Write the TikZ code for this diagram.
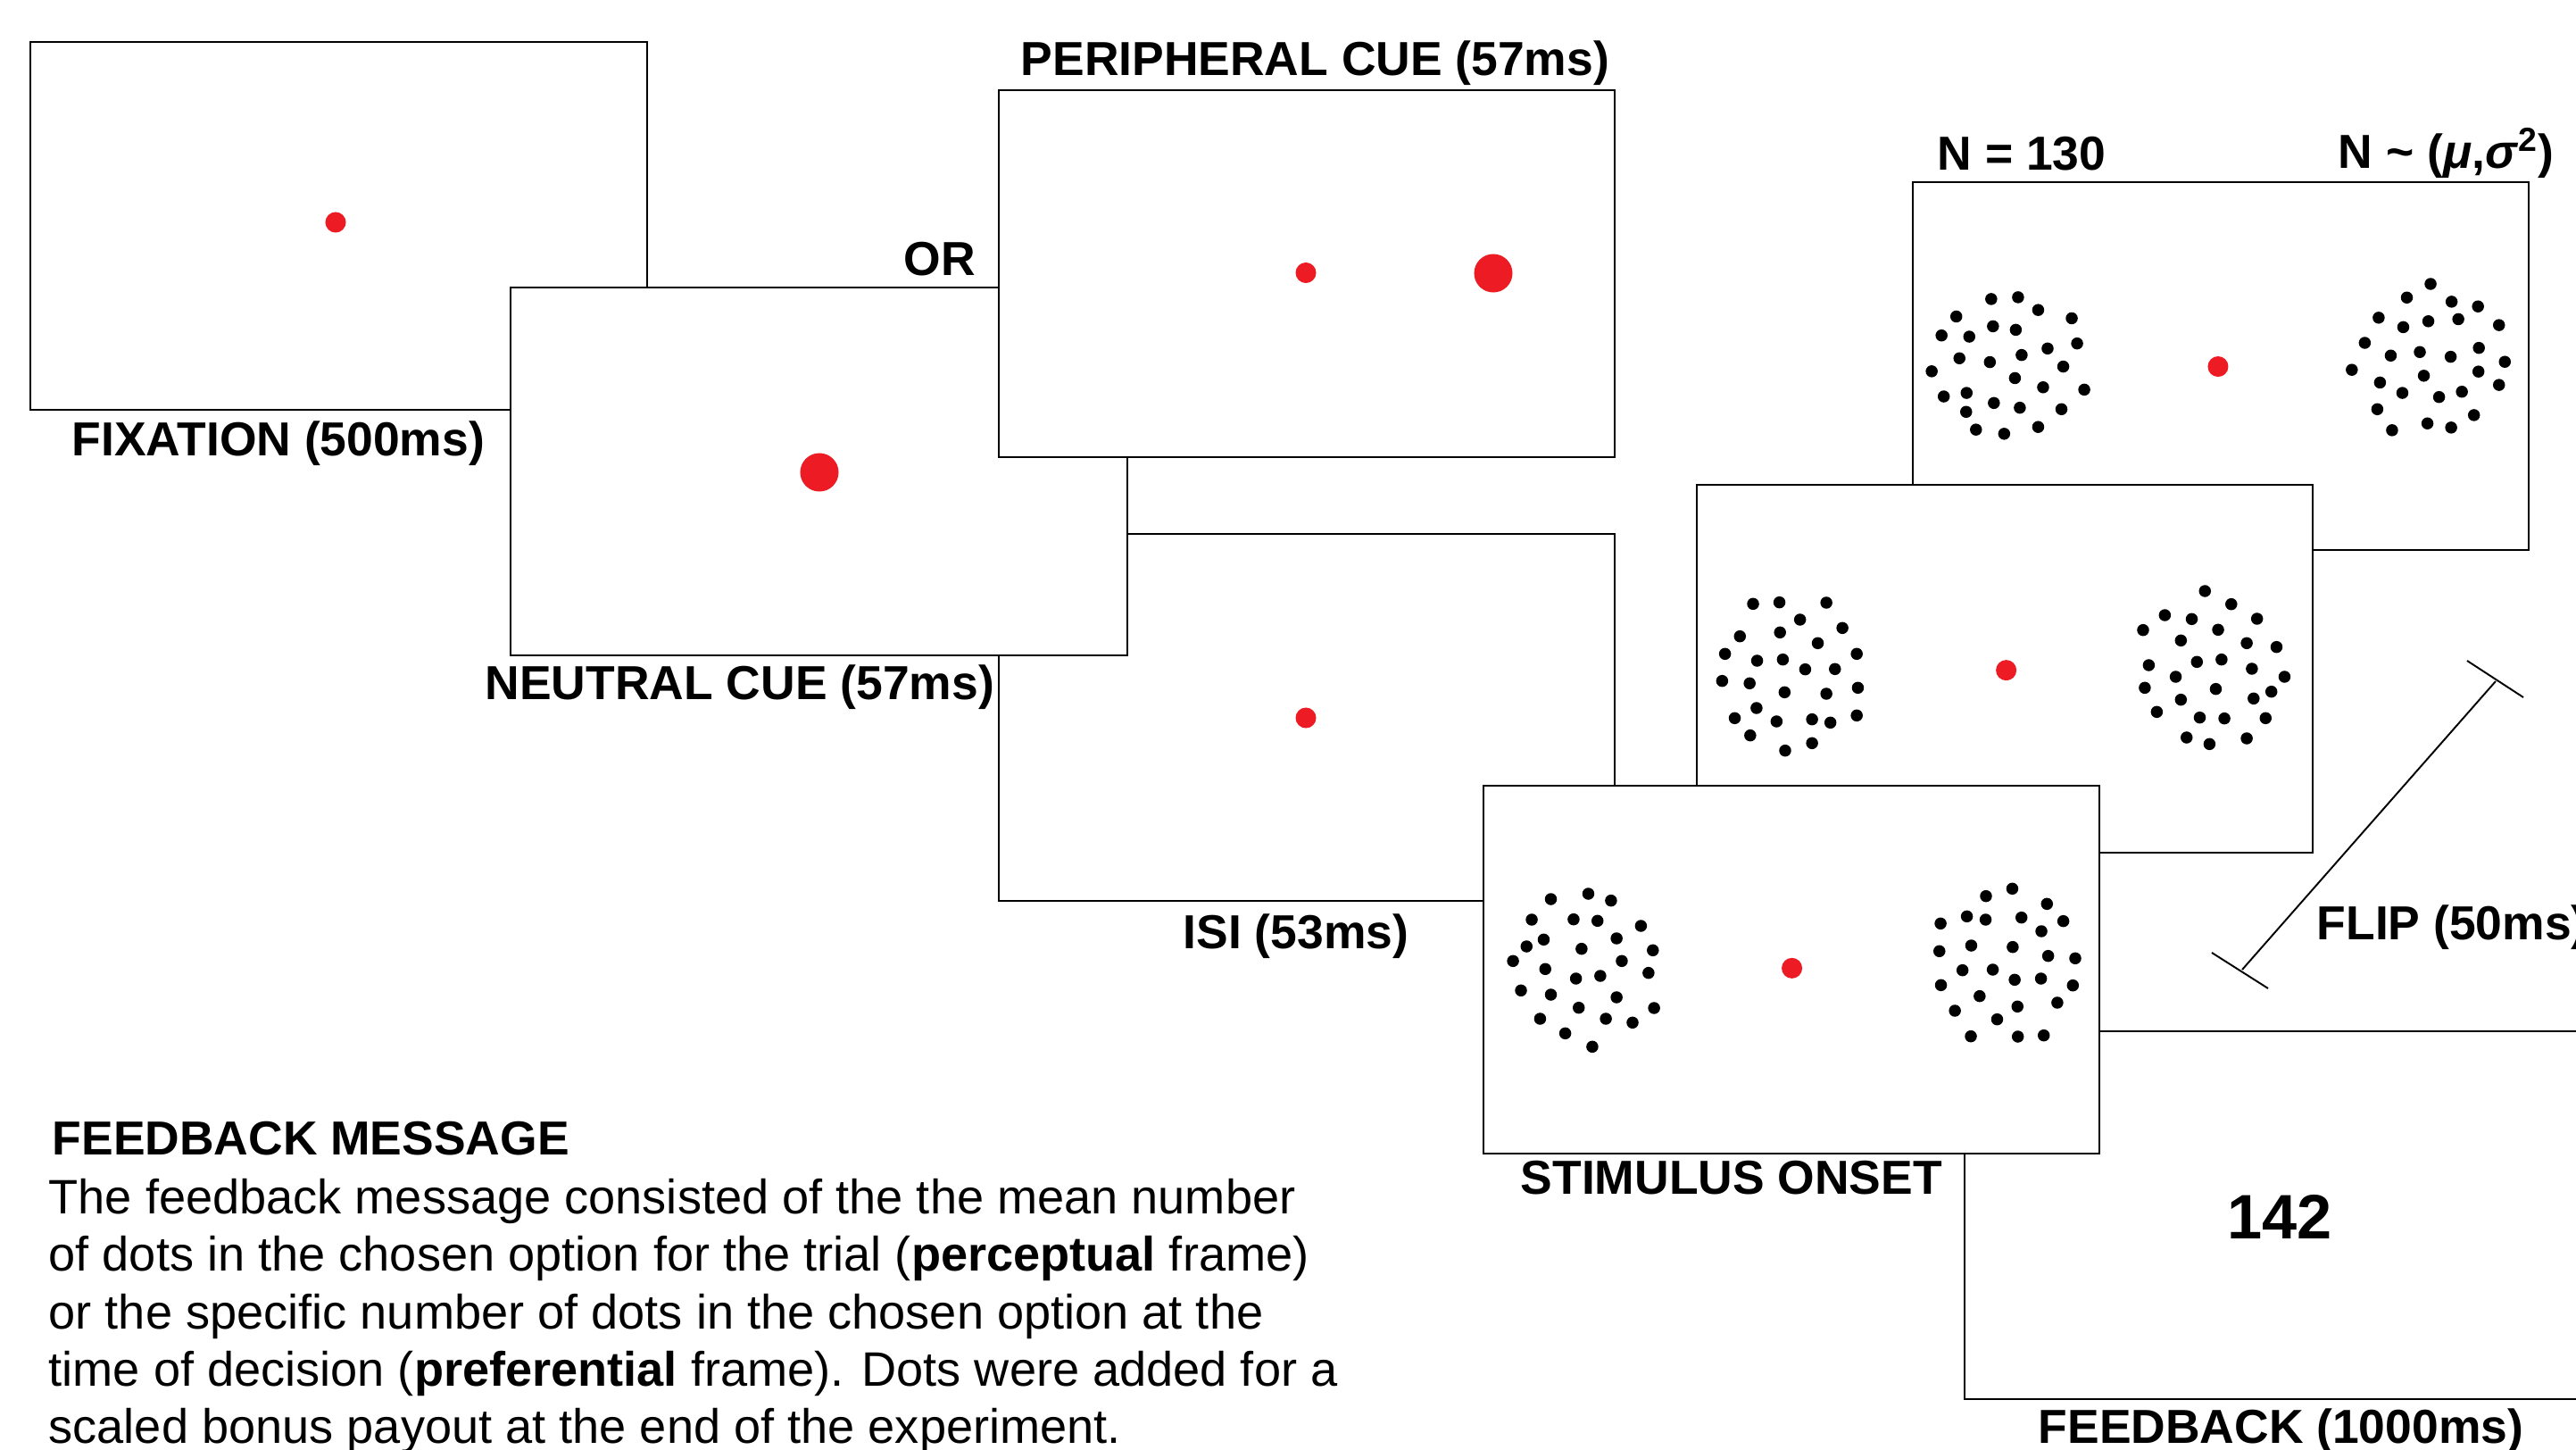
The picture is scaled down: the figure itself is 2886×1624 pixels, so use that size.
\documentclass[tikz,border=0pt]{standalone}
\usepackage{fontspec}
\setmainfont{Liberation Sans}
\definecolor{cuered}{RGB}{237,28,36}

\begin{document}
\begin{tikzpicture}[x=0.01cm, y=-0.01cm,
  screen/.style={draw=black, line width=0.6pt, fill=white,
    minimum width=6.9cm, minimum height=4.11cm, inner sep=0pt},
  reddot/.style={circle, fill=cuered, inner sep=0pt, minimum size=0.23cm},
  bigreddot/.style={reddot, minimum size=0.43cm},
  bdot/.style={circle, fill=black, inner sep=0pt, minimum size=0.135cm},
  stagelabel/.style={anchor=base west, inner sep=0pt,
    font=\fontsize{15.2}{18}\selectfont\bfseries},
  bodytext/.style={anchor=base west, inner sep=0pt,
    font=\fontsize{15.4}{18}\selectfont},
  bracket/.style={draw=black, line width=0.55pt},
]
\useasboundingbox (0,0) rectangle (2886,1624);

% ---- screens, back to front ----
\node[screen] (fix) at (379.5,253) {};
\node[reddot] (fixdot) at (376,249) {};

\node[screen] (isi) at (1464,803.5) {};
\node[reddot] (isidot) at (1463,804) {};

\node[screen] (neutral) at (917.5,528) {};
\node[bigreddot] (neutraldot) at (918,529) {};

\node[screen] (periph) at (1464,306.5) {};
\node[reddot] (periphdot) at (1463,305.5) {};
\node[bigreddot] (periphcue) at (1673,306) {};

% dot-array screens (positions on local grids)
\node[screen] (stimA) at (2488,410) {};
\begin{scope}[shift={(2100,120)}, xscale=0.50125, yscale=0.33167]
  \foreach \x/\y in {261/648, 321/642, 366/685, 183/707, 441/713, 265/740,
      316/752, 150/771, 212/775, 453/798, 387/815, 190/848, 258/861, 329/837,
      128/892, 422/876, 314/915, 377/946, 469/954, 155/977, 206/965, 267/999,
      325/1015, 418/1020, 205/1029, 227/1089, 290/1103, 366/1080,
      1243/597, 1190/643, 1290/657, 1349/673, 1127/711, 1182/743, 1238/723,
      1305/716, 1396/736, 1096/796, 1154/839, 1219/827, 1288/843, 1351/813,
      1409/860, 1067/887, 1350/893, 1228/907, 1130/930, 1396/938, 1180/965,
      1262/979, 1313/961, 1124/1020, 1340/1040, 1157/1091, 1236/1068, 1289/1082}
    \node[bdot] at (\x,\y) {};
  \node[reddot] (stimAdot) at (768,876) {};
\end{scope}

\node[screen] (stimB) at (2246,749) {};
\begin{scope}[shift={(1880,520)}, xscale=0.6416, yscale=0.33333]
  \foreach \x/\y in {131/469, 177/464, 259/465, 213/522, 287/550, 108/578,
      178/565, 244/601, 82/637, 312/637, 138/660, 183/656, 222/689, 274/688,
      77/728, 125/736, 186/766, 259/771, 314/751, 137/819, 99/853, 172/864,
      234/857, 266/868, 312/844, 126/911, 234/937, 187/962,
      920/426, 966/470, 850/507, 897/520, 1011/519, 812/557, 943/556, 878/592,
      993/601, 1045/614, 822/675, 906/664, 949/656, 1002/687, 869/714,
      1059/714, 815/751, 939/755, 1036/764, 878/791, 1005/787, 836/832,
      911/851, 954/854, 1026/853, 888/918, 928/940, 993/921}
    \node[bdot] at (\x,\y) {};
  \node[reddot] (stimBdot) at (573,692) {};
\end{scope}

\node[screen] (feedback) at (2546,1361) {};
\node[anchor=base west, inner sep=0pt, font=\fontsize{20}{24}\selectfont\bfseries]
  (fbnum) at (2495,1387) {142};

\node[screen] (stimC) at (2007,1086) {};
\begin{scope}[shift={(1650,860)}, xscale=0.44643, yscale=0.33333]
  \foreach \x/\y in {196/441, 290/423, 347/446, 148/510, 253/509, 313/514,
      422/531, 178/577, 135/600, 361/573, 273/608, 452/613, 101/649, 374/649,
      182/676, 441/689, 259/708, 320/699, 121/748, 196/762, 361/771, 266/806,
      455/807, 169/843, 334/843, 401/856, 232/892, 300/937,
      1354/406, 1288/431, 1441/457, 1174/523, 1240/499, 1287/510, 1377/503,
      1482/515, 1427/549, 1171/616, 1251/597, 1355/602, 1444/632, 1512/640,
      1229/680, 1305/678, 1360/712, 1426/708, 1175/730, 1506/731, 1272/767,
      1367/802, 1467/789, 1210/816, 1316/845, 1250/902, 1368/903, 1433/899}
    \node[bdot] at (\x,\y) {};
  \node[reddot] (stimCdot) at (801,673) {};
\end{scope}

% ---- flip interval bracket ----
\coordinate (flipLo) at (2512,1086);
\coordinate (flipHi) at (2796,763);
\coordinate (capLoA) at (2478,1067);
\coordinate (capLoB) at (2541,1107);
\coordinate (capHiA) at (2764,740);
\coordinate (capHiB) at (2827,781);
\draw[bracket] (flipLo) -- (flipHi);
\draw[bracket] (capLoA) -- (capLoB);
\draw[bracket] (capHiA) -- (capHiB);

% ---- stage labels ----
\node[stagelabel] (lperiph) at (1143,84) {PERIPHERAL CUE (57ms)};
\node[stagelabel] (lor) at (1012,308) {OR};
\node[stagelabel] (lfix) at (80,510) {FIXATION (500ms)};
\node[stagelabel] (lneutral) at (543,783) {NEUTRAL CUE (57ms)};
\node[stagelabel] (lisi) at (1325,1062) {ISI (53ms)};
\node[stagelabel] (lstim) at (1703,1337) {STIMULUS ONSET};
\node[stagelabel] (lnfix) at (2170,190) {N = 130};
\node[stagelabel] (lndist) at (2619,188)
  {N \textasciitilde{} (\textit{μ},\textit{σ}\textsuperscript{2})};
\node[stagelabel] (lflip) at (2595,1052) {FLIP (50ms)};
\node[stagelabel] (lfb) at (2283,1616) {FEEDBACK (1000ms)};

% ---- feedback message text ----
\node[stagelabel] (msghead) at (58,1293) {FEEDBACK MESSAGE};
\node[bodytext] (msg1) at (54,1359) {The feedback message consisted of the the mean number};
\node[bodytext] (msg2) at (54,1423) {of dots in the chosen option for the trial (\textbf{perceptual} frame)};
\node[bodytext] (msg3) at (54,1488) {or the specific number of dots in the chosen option at the};
\node[bodytext] (msg4) at (54,1552) {time of decision (\textbf{preferential} frame). Dots were added for a};
\node[bodytext] (msg5) at (54,1616) {scaled bonus payout at the end of the experiment.};
\end{tikzpicture}
\end{document}
